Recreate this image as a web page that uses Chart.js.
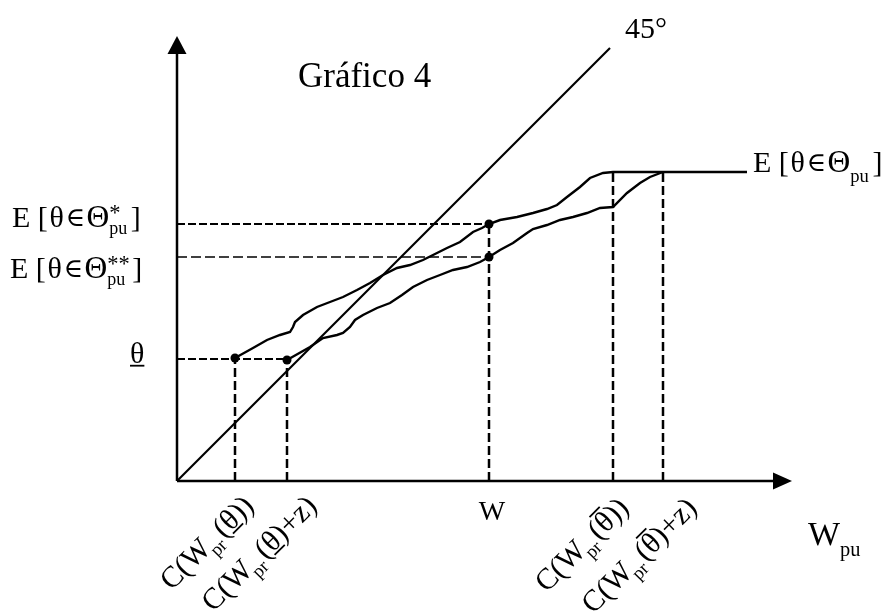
<!DOCTYPE html>
<html>
<head>
<meta charset="utf-8">
<script src="https://cdn.jsdelivr.net/npm/chart.js@4.4.1/dist/chart.umd.min.js"></script>
<style>
  html, body { margin: 0; padding: 0; background: #ffffff; }
  #wrap { width: 891px; height: 615px; position: relative; }
</style>
</head>
<body>
<div id="wrap"><canvas id="c"></canvas></div>
<script>
// ---- data ----
const upperX = [58,76,90,103,113,116,118,126,140,153,166,180,193,206,220,233,246,256,270,283,296,305,312,323,340,356,370,380,390,403,413,426,436,570];
const upperY = [123,133,141,146,149,154,159,166,174,179,184,191,198,206,213,216,221,226,233,239,249,253,257,261,264,268,272,276,284,294,303,308,309,309];
const lowerX = [110,133,146,160,166,173,178,186,200,213,225,236,250,263,276,290,303,312,323,336,350,356,370,383,396,410,423,436,450,463,473,486];
const lowerY = [121,134,143,146,148,154,161,166,173,178,186,194,201,206,211,214,219,224,231,238,248,252,256,261,264,268,273,274,288,298,304,309];
const diagX = [0, 433];
const diagY = [0, 433];
const vGuideX = [58, 110, 312, 436, 486];
const vGuideTop = [123, 121, 257, 309, 309];
const hGuideY = [122, 224, 257];
const hGuideEnd = [110, 312, 312];
const dotX = [58, 110, 312, 312];
const dotY = [123, 121, 257, 224];
const axisMaxX = 615;
const axisMaxY = 445;

// ---- helpers ----
const zip = (xs, ys) => xs.map((x, i) => ({ x: x, y: ys[i] }));
const FONT = '"Liberation Serif", "Times New Roman", "DejaVu Serif", serif';
const fnt = s => s + 'px ' + FONT;

function segW(ctx, seg, base) {
  if (seg.stack) {
    ctx.font = fnt(base * 0.75); const a = ctx.measureText(seg.stack[0]).width;
    ctx.font = fnt(base * 0.6); const b = ctx.measureText(seg.stack[1]).width;
    return Math.max(a, b) + (seg.kern || 0) * base;
  }
  ctx.font = fnt(base * (seg.s || 1));
  return ctx.measureText(seg.t).width + (seg.kern || 0) * base + (seg.pre || 0) * base;
}
function richWidth(ctx, segs, base) {
  return segs.reduce((w, s) => w + segW(ctx, s, base), 0);
}
function drawRich(ctx, segs, x, y, base) {
  let cx = x;
  ctx.textBaseline = 'alphabetic';
  ctx.textAlign = 'left';
  for (const seg of segs) {
    const w = segW(ctx, seg, base);
    if (seg.stack) {
      ctx.font = fnt(base * 0.75); ctx.fillText(seg.stack[0], cx, y - 0.25 * base);
      ctx.font = fnt(base * 0.6); ctx.fillText(seg.stack[1], cx, y + 0.22 * base);
    } else {
      const sz = base * (seg.s || 1);
      const by = y + (seg.dy || 0) * base;
      const gx = cx + (seg.pre || 0) * base;
      ctx.font = fnt(sz);
      ctx.fillText(seg.t, gx, by);
      const gw = ctx.measureText(seg.t).width;
      ctx.lineWidth = Math.max(1.5, sz * 0.06);
      if (seg.over) { ctx.beginPath(); ctx.moveTo(gx, by - 0.78 * sz); ctx.lineTo(gx + gw, by - 0.78 * sz); ctx.stroke(); }
      if (seg.under) { ctx.beginPath(); ctx.moveTo(gx, by + 0.09 * sz); ctx.lineTo(gx + gw, by + 0.09 * sz); ctx.stroke(); }
    }
    cx += w;
  }
}

// ---- annotations (positions in data units) ----
const ePart = [{ t: 'E [', kern: 0.06 }, { t: 'θ', kern: 0.05 }, { t: '∈', s: 0.88, dy: -0.02, kern: 0.05 }, { t: 'Θ', s: 1.05 }];
const notes = [
  { x: 121, y: 394, size: 35, segs: [{ t: 'Gráfico 4' }] },
  { x: 448, y: 443, size: 30, segs: [{ t: '45°' }] },
  { x: 576, y: 309, size: 30, segs: ePart.concat([{ t: 'pu', s: 0.62, dy: 0.33, kern: 0.12 }, { t: ']' }]) },
  { x: -165, y: 254, size: 30, segs: ePart.concat([{ stack: ['*', 'pu'], kern: 0.12 }, { t: ']' }]) },
  { x: -167, y: 203, size: 30, segs: ePart.concat([{ stack: ['**', 'pu'], kern: 0.08 }, { t: ']' }]) },
  { x: -47, y: 118, size: 30, segs: [{ t: 'θ', under: true }] },
  { x: 315, y: -39, size: 28, align: 'center', segs: [{ t: 'W' }] },
  { x: 631, y: -64, size: 34, segs: [{ t: 'W' }, { t: 'pu', s: 0.6, dy: 0.33 }] }
];
const sub = { t: 'pr', s: 0.62, dy: 0.28, pre: -0.06 };
const rotNotes = [
  { tick: 0, dx: 14, dy: -20, segs: [{ t: 'C(W' }, sub, { t: '(', pre: 0.08 }, { t: 'θ', under: true }, { t: '))' }] },
  { tick: 1, dx: 25, dy: -20, segs: [{ t: 'C(W' }, sub, { t: '(', pre: 0.08 }, { t: 'θ', under: true }, { t: ')+z)' }] },
  { tick: 3, dx: 11, dy: -22, segs: [{ t: 'C(W' }, sub, { t: '(', pre: 0.08 }, { t: 'θ', over: true }, { t: '))' }] },
  { tick: 4, dx: 29, dy: -22, segs: [{ t: 'C(W' }, sub, { t: '(', pre: 0.08 }, { t: 'θ', over: true }, { t: ')+z)' }] }
];

const artPlugin = {
  id: 'art',
  afterDatasetsDraw(chart) {
    const ctx = chart.ctx, xs = chart.scales.x, ys = chart.scales.y;
    const x0 = xs.getPixelForValue(0), y0 = ys.getPixelForValue(0);
    const xe = xs.getPixelForValue(axisMaxX), ye = ys.getPixelForValue(axisMaxY);
    ctx.save();
    ctx.strokeStyle = '#000'; ctx.fillStyle = '#000';
    // axes
    ctx.lineWidth = 2.5;
    ctx.beginPath(); ctx.moveTo(x0, y0); ctx.lineTo(xe - 15, y0); ctx.stroke();
    ctx.beginPath(); ctx.moveTo(x0, y0); ctx.lineTo(x0, ye + 15); ctx.stroke();
    ctx.beginPath(); ctx.moveTo(xe, y0); ctx.lineTo(xe - 19, y0 - 8.5); ctx.lineTo(xe - 19, y0 + 8.5); ctx.closePath(); ctx.fill();
    ctx.beginPath(); ctx.moveTo(x0, ye); ctx.lineTo(x0 - 9.5, ye + 18); ctx.lineTo(x0 + 9.5, ye + 18); ctx.closePath(); ctx.fill();
    // labels
    for (const n of notes) {
      const px = xs.getPixelForValue(n.x), py = ys.getPixelForValue(n.y);
      let sx = px;
      if (n.align === 'center') sx = px - richWidth(ctx, n.segs, n.size) / 2;
      drawRich(ctx, n.segs, sx, py, n.size);
    }
    for (const r of rotNotes) {
      const px = xs.getPixelForValue(vGuideX[r.tick]) + r.dx;
      const py = y0 - r.dy;
      const size = 30;
      const w = richWidth(ctx, r.segs, size);
      ctx.save();
      ctx.translate(px, py);
      ctx.rotate(-Math.PI / 4);
      drawRich(ctx, r.segs, -w, 0.3 * size, size);
      ctx.restore();
    }
    ctx.restore();
  }
};

const datasets = [];
const solid = (data, w) => ({ data: data, showLine: true, borderColor: '#000', borderWidth: w, pointRadius: 0, tension: 0, fill: false, clip: false });
datasets.push(solid(zip(upperX, upperY), 2.4));
datasets.push(solid(zip(lowerX, lowerY), 2.4));
datasets.push(solid(zip(diagX, diagY), 2.2));
vGuideX.forEach((x, i) => {
  const d = solid([{ x: x, y: 0 }, { x: x, y: vGuideTop[i] }], 2.5);
  d.borderDash = [9, 4];
  datasets.push(d);
});
hGuideY.forEach((y, i) => {
  const d = solid([{ x: 0, y: y }, { x: hGuideEnd[i], y: y }], i === 1 ? 1.6 : 2.2);
  d.borderDash = i === 1 ? [10, 4] : [8, 3];
  datasets.push(d);
});
datasets.push({ data: zip(dotX, dotY), showLine: false, pointRadius: 4.5, pointBackgroundColor: '#000', pointBorderColor: '#000', pointBorderWidth: 0, clip: false });

new Chart(document.getElementById('c'), {
  type: 'scatter',
  data: { datasets: datasets },
  options: {
    responsive: true,
    maintainAspectRatio: false,
    animation: false,
    events: [],
    layout: { padding: { left: 177, right: 99, top: 36, bottom: 134 } },
    scales: {
      x: { type: 'linear', min: 0, max: axisMaxX, display: false },
      y: { type: 'linear', min: 0, max: axisMaxY, display: false }
    },
    plugins: { legend: { display: false }, tooltip: { enabled: false } }
  },
  plugins: [artPlugin]
});
</script>
</body>
</html>
